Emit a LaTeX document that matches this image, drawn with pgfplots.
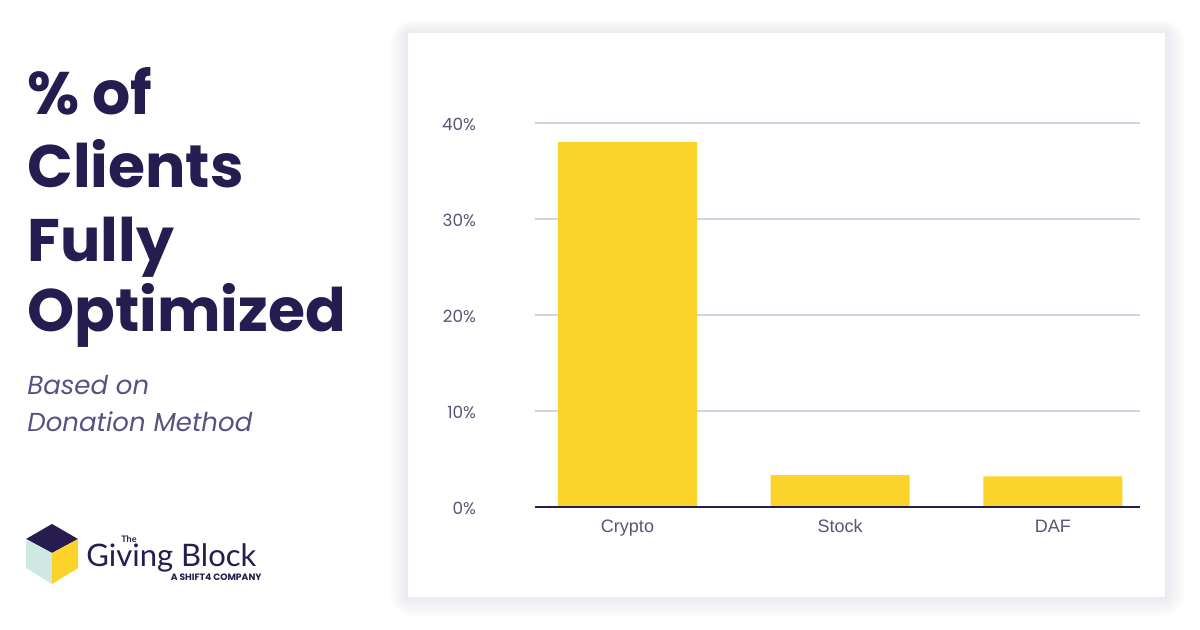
\documentclass[border=0pt]{standalone}
\usepackage{pgfplots}
\pgfplotsset{compat=1.18}
\usepackage{fontspec}
\setmainfont{Liberation Sans}
\newfontfamily\pop{Poppins}
\newfontfamily\lato{Lato}
\definecolor{navy}{HTML}{261C4F}
\definecolor{subc}{HTML}{5B5180}
\definecolor{tickc}{HTML}{5A5478}
\definecolor{gridc}{HTML}{D3D1E0}
\definecolor{baryel}{HTML}{FBD32B}
\definecolor{mint}{HTML}{CFE8E4}
\definecolor{shadc}{HTML}{B8B5CF}
\begin{document}
\begin{tikzpicture}
\useasboundingbox (0,0) rectangle (600pt,315pt);
\fill[white] (0,0) rectangle (600pt,315pt);
\begin{scope}[x=0.5pt,y=-0.5pt,shift={(0pt,315pt)}]
  % card shadow
  \foreach \k in {1,...,10}{
    \fill[shadc,opacity=0.025,rounded corners=\k*1.2pt] (408-\k*1.8,33-\k*1.3) rectangle (1165+\k*2.0,597+\k*2.0);
  }
  \fill[white] (408,33) rectangle (1165,597);
  % title
  \node[anchor=base west,inner sep=0,text=navy,font=\pop\bfseries\fontsize{30pt}{36pt}\selectfont] at (27,115) {\% of};
  \node[anchor=base west,inner sep=0,text=navy,font=\pop\bfseries\fontsize{30pt}{36pt}\selectfont] at (27,188) {Clients};
  \node[anchor=base west,inner sep=0,text=navy,font=\pop\bfseries\fontsize{30pt}{36pt}\selectfont] at (27,262) {Fully};
  \node[anchor=base west,inner sep=0,text=navy,font=\pop\bfseries\fontsize{30pt}{36pt}\selectfont] at (27,332) {Optimized};
  \node[anchor=base west,inner sep=0,text=subc,font=\pop\itshape\fontsize{13pt}{15pt}\selectfont] at (27,395) {Based on};
  \node[anchor=base west,inner sep=0,text=subc,font=\pop\itshape\fontsize{13pt}{15pt}\selectfont] at (27,432) {Donation Method};
  % logo cube
  \fill[navy] (52,524) -- (78,539) -- (52,553) -- (26,539) -- cycle;
  \fill[mint] (26,539) -- (52,553) -- (52,584) -- (26,568) -- cycle;
  \fill[baryel] (78,539) -- (52,553) -- (52,584) -- (78,568) -- cycle;
  \node[anchor=base west,inner sep=0,text=navy,font=\lato\fontsize{4.5pt}{5pt}\selectfont\bfseries] at (121,543) {The};
  \node[anchor=base west,inner sep=0,text=navy,font=\lato\fontsize{15.5pt}{16pt}\selectfont] at (86,567) {Giving Block};
  \node[anchor=base east,inner sep=0,text=navy,font=\pop\bfseries\fontsize{4.6pt}{5pt}\selectfont] at (262,581) {A SHIFT4 COMPANY};
\end{scope}
\begin{axis}[
  at={(267.5pt,61.5pt)}, anchor=south west,
  scale only axis, width=302.5pt, height=192pt,
  ymin=0, ymax=40,
  xmin=-0.435, xmax=2.41,
  ytick={0,10,20,30,40},
  yticklabels={0\%,10\%,20\%,30\%,40\%},
  yticklabel style={anchor=east,xshift=-26pt,yshift=-0.5pt,text=tickc,font=\pop\fontsize{8.4pt}{9pt}\selectfont},
  xtick={0,1,2},
  xticklabel style={anchor=north,yshift=-1pt,text=tickc,text height=1.6ex,text depth=0.3ex,font=\fontsize{9pt}{10pt}\selectfont},
  xticklabels={Crypto,Stock,DAF},
  major tick length=0pt,
  ymajorgrids, grid style={gridc,line width=0.8pt},
  axis x line*=bottom, axis y line*=left,
  x axis line style={draw=none},
  y axis line style={draw=none},
  clip=false,
]
\addplot[ybar, bar width=0.654, fill=baryel, draw=none] coordinates {(0,38) (1,3.33) (2,3.2)};
\draw[navy,line width=1pt] (axis cs:-0.435,0) -- (axis cs:2.41,0);
\end{axis}
\end{tikzpicture}
\end{document}
